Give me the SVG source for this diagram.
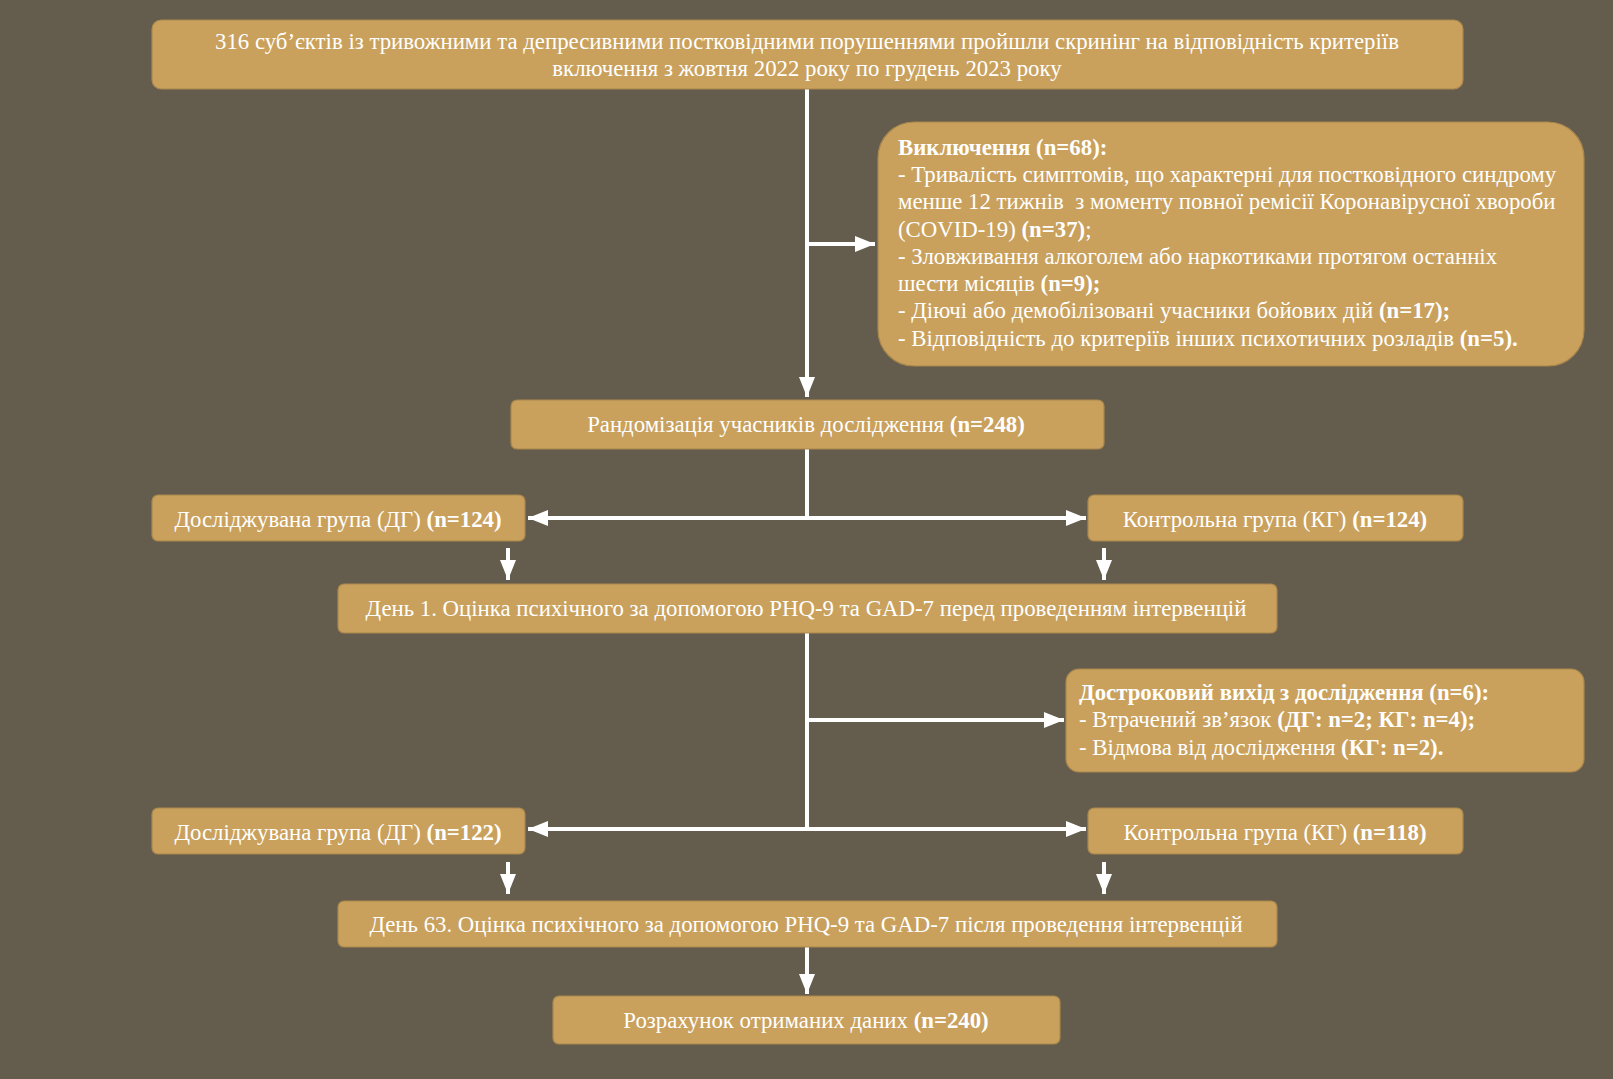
<svg xmlns="http://www.w3.org/2000/svg" width="1613" height="1079" viewBox="0 0 1613 1079">
<defs>
<style>
.bx{fill:#c9a15d;stroke:#a9874c;stroke-width:1.2}
.t{font-family:"Liberation Serif","Times New Roman",serif;font-size:22.8px;fill:#fff}
.c{text-anchor:middle}
.b{font-weight:bold}
.ln{fill:none;stroke:#fff;stroke-width:4}
</style>
<marker id="ah" markerUnits="userSpaceOnUse" markerWidth="22" markerHeight="22" viewBox="0 0 22 22" refX="20" refY="11" orient="auto">
<path d="M0,3 L20,11 L0,19 z" fill="#fff"/>
</marker>
</defs>
<rect width="1613" height="1079" fill="#645d4d"/>

<g id="connectors">
<path class="ln" d="M807,89 V397" marker-end="url(#ah)"/>
<path class="ln" d="M807,244 H875" marker-end="url(#ah)"/>
<path class="ln" d="M807,449 V518"/>
<path class="ln" d="M807,518 H528" marker-end="url(#ah)"/>
<path class="ln" d="M807,518 H1086" marker-end="url(#ah)"/>
<path class="ln" d="M508,548 V580" marker-end="url(#ah)"/>
<path class="ln" d="M1104,548 V580" marker-end="url(#ah)"/>
<path class="ln" d="M807,633 V829"/>
<path class="ln" d="M807,720 H1064" marker-end="url(#ah)"/>
<path class="ln" d="M807,829 H528" marker-end="url(#ah)"/>
<path class="ln" d="M807,829 H1086" marker-end="url(#ah)"/>
<path class="ln" d="M508,862 V894" marker-end="url(#ah)"/>
<path class="ln" d="M1104,862 V894" marker-end="url(#ah)"/>
<path class="ln" d="M807,947 V994" marker-end="url(#ah)"/>
</g>

<g id="screening">
<rect class="bx" x="152" y="20" width="1311" height="69" rx="9"/>
<text class="t c" x="807" y="49">316 суб’єктів із тривожними та депресивними постковідними порушеннями пройшли скринінг на відповідність критеріїв</text>
<text class="t c" x="807" y="76">включення з жовтня 2022 року по грудень 2023 року</text>
</g>

<g id="exclusion">
<rect class="bx" x="878" y="122" width="706" height="244" rx="36"/>
<text class="t" x="898" y="155"><tspan class="b">Виключення (n=68):</tspan></text>
<text class="t" x="898" y="182">- Тривалість симптомів, що характерні для постковідного синдрому</text>
<text class="t" x="898" y="209" xml:space="preserve" style="white-space:pre">менше 12 тижнів  з моменту повної ремісії Коронавірусної хвороби</text>
<text class="t" x="898" y="237">(COVID-19) <tspan class="b">(n=37)</tspan>;</text>
<text class="t" x="898" y="264">- Зловживання алкоголем або наркотиками протягом останніх</text>
<text class="t" x="898" y="291">шести місяців <tspan class="b">(n=9);</tspan></text>
<text class="t" x="898" y="318">- Діючі або демобілізовані учасники бойових дій <tspan class="b">(n=17);</tspan></text>
<text class="t" x="898" y="346">- Відповідність до критеріїв інших психотичних розладів <tspan class="b">(n=5).</tspan></text>
</g>

<g id="randomization">
<rect class="bx" x="511" y="400" width="593" height="49" rx="6"/>
<text class="t c" x="806" y="432">Рандомізація учасників дослідження <tspan class="b">(n=248)</tspan></text>
</g>

<g id="dg1">
<rect class="bx" x="152" y="495" width="373" height="46" rx="6"/>
<text class="t c" x="338" y="527">Досліджувана група (ДГ) <tspan class="b">(n=124)</tspan></text>
</g>
<g id="kg1">
<rect class="bx" x="1088" y="495" width="375" height="46" rx="6"/>
<text class="t c" x="1275" y="527">Контрольна група (КГ) <tspan class="b">(n=124)</tspan></text>
</g>

<g id="day1">
<rect class="bx" x="338" y="584" width="939" height="49" rx="6"/>
<text class="t c" x="806" y="616">День 1. Оцінка психічного за допомогою PHQ-9 та GAD-7 перед проведенням інтервенцій</text>
</g>

<g id="dropout">
<rect class="bx" x="1066" y="669" width="518" height="103" rx="13"/>
<text class="t" x="1079" y="700"><tspan class="b">Достроковий вихід з дослідження (n=6):</tspan></text>
<text class="t" x="1079" y="727">- Втрачений зв’язок <tspan class="b">(ДГ: n=2; КГ: n=4);</tspan></text>
<text class="t" x="1079" y="755">- Відмова від дослідження <tspan class="b">(КГ: n=2).</tspan></text>
</g>

<g id="dg2">
<rect class="bx" x="152" y="808" width="373" height="46" rx="6"/>
<text class="t c" x="338" y="840">Досліджувана група (ДГ) <tspan class="b">(n=122)</tspan></text>
</g>
<g id="kg2">
<rect class="bx" x="1088" y="808" width="375" height="46" rx="6"/>
<text class="t c" x="1275" y="840">Контрольна група (КГ) <tspan class="b">(n=118)</tspan></text>
</g>

<g id="day63">
<rect class="bx" x="338" y="901" width="939" height="46" rx="6"/>
<text class="t c" x="806" y="932">День 63. Оцінка психічного за допомогою PHQ-9 та GAD-7 після проведення інтервенцій</text>
</g>

<g id="result">
<rect class="bx" x="553" y="996" width="507" height="48" rx="6"/>
<text class="t c" x="806" y="1028">Розрахунок отриманих даних <tspan class="b">(n=240)</tspan></text>
</g>
</svg>
